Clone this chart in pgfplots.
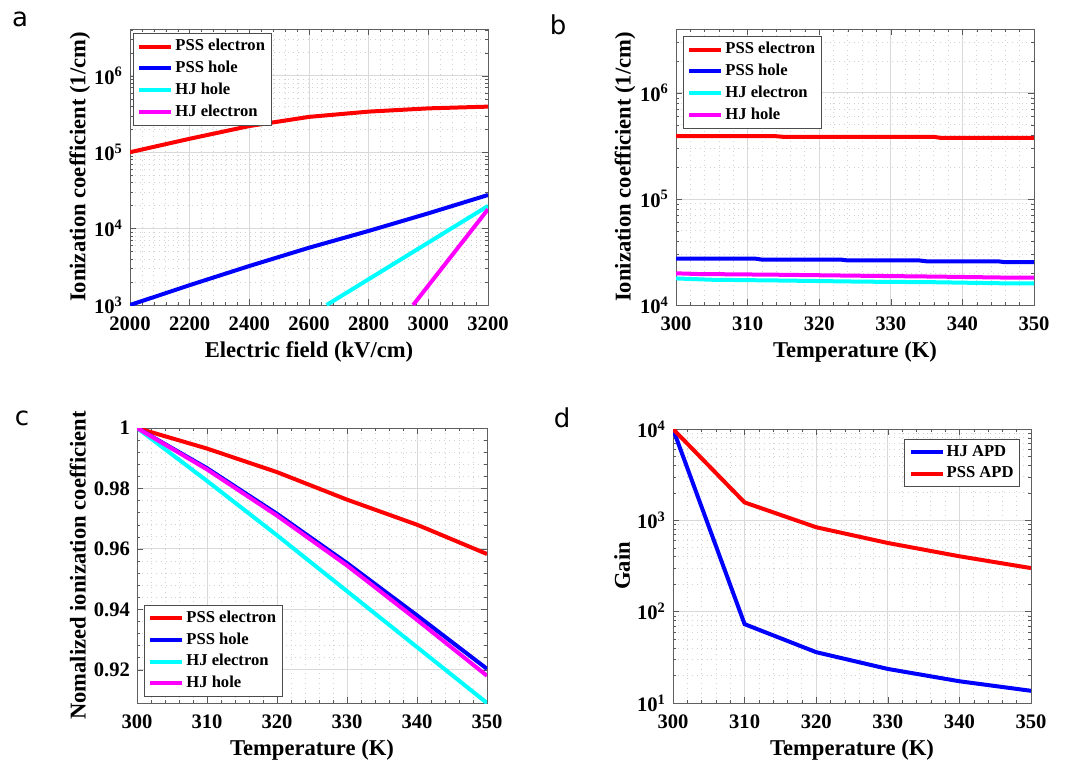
\documentclass[border=0pt]{standalone}
\usepackage{pgfplots}
\pgfplotsset{compat=1.18}
\usepackage{fontspec}
\setmainfont{Liberation Serif}
\newfontfamily\letterfont{DejaVu Sans}

\definecolor{mred}{RGB}{255,0,0}
\definecolor{mblue}{RGB}{0,0,255}
\definecolor{mcyan}{RGB}{0,255,255}
\definecolor{mmag}{RGB}{255,0,255}

\pgfplotsset{
  panel/.style={
    scale only axis,
    anchor=north west,
    axis line style={gray!75!black},
    tick style={gray!70!black},
    tick align=inside,
    major tick length=3pt,
    minor tick length=1.5pt,
    grid=both,
    major grid style={gray!30, line width=0.4pt},
    minor grid style={gray!35, dotted, line width=0.4pt},
    tick label style={font=\bfseries\fontsize{10.3}{12}\selectfont},
    xticklabel style={yshift=-2.5pt},
    /pgf/number format/assume math mode=true,
    /pgf/number format/1000 sep={},
    label style={font=\bfseries\fontsize{11.3}{13}\selectfont},
    xlabel style={at={(axis description cs:0.5,-0.17)}, anchor=center},
    legend cell align=left,
    legend style={font=\bfseries\fontsize{8.3}{9}\selectfont, draw=gray!60!black,
      inner sep=2pt, row sep=1.6pt, nodes={inner sep=1pt}, anchor=north west},
    legend image code/.code={\draw[##1, line width=2pt] (0pt,0pt) -- (16pt,0pt);},
    every axis plot/.append style={line width=2pt},
  },
  logminor/.style={
    minor ytick={2e1,3e1,4e1,5e1,6e1,7e1,8e1,9e1,
      2e2,3e2,4e2,5e2,6e2,7e2,8e2,9e2,
      2e3,3e3,4e3,5e3,6e3,7e3,8e3,9e3,
      2e4,3e4,4e4,5e4,6e4,7e4,8e4,9e4,
      2e5,3e5,4e5,5e5,6e5,7e5,8e5,9e5,
      2e6,3e6,4e6},
  },
}

\begin{document}
\begin{tikzpicture}
\path (0,0) rectangle (539.5pt,-381.5pt);

% panel letters
\node[font=\letterfont\fontsize{13}{15}\selectfont] at (10pt,-9.5pt) {a};
\node[font=\letterfont\fontsize{13}{15}\selectfont] at (279pt,-12.5pt) {b};
\node[font=\letterfont\fontsize{13}{15}\selectfont] at (11pt,-209pt) {c};
\node[font=\letterfont\fontsize{13}{15}\selectfont] at (281pt,-209pt) {d};

% ---- a ----
\begin{semilogyaxis}[panel, logminor,
  at={(65pt,-14.5pt)}, width=179pt, height=138pt,
  xmin=2000, xmax=3200, ymin=1e3, ymax=4.1e6,
  xtick={2000,2200,...,3200}, minor x tick num=4,
  ytick={1e3,1e4,1e5,1e6},
  yticklabels={10\textsuperscript{3},10\textsuperscript{4},10\textsuperscript{5},10\textsuperscript{6}},
  xlabel={Electric field (kV/cm)},
  ylabel={Ionization coefficient (1/cm)},
  ylabel style={at={(axis description cs:-0.14,0.5)}, anchor=center},
  legend style={at={(axis description cs:0,1)}, xshift=1.5pt, yshift=-2pt},
]
\addplot[mred] coordinates {(2000,1.0e5) (2200,1.5e5) (2400,2.2e5) (2600,2.9e5) (2800,3.4e5) (3000,3.75e5) (3200,3.95e5)};
\addlegendentry{PSS electron}
\addplot[mblue] coordinates {(2000,1000) (2200,1820) (2400,3240) (2600,5620) (2800,9330) (3000,15850) (3200,27540)};
\addlegendentry{PSS hole}
\addplot[mcyan] coordinates {(2659,1000) (3200,19800)};
\addlegendentry{HJ hole}
\addplot[mmag] coordinates {(2949,1000) (3200,17900)};
\addlegendentry{HJ electron}
\end{semilogyaxis}

% ---- b ----
\begin{semilogyaxis}[panel, logminor,
  at={(338pt,-14.5pt)}, width=179pt, height=138pt,
  xmin=300, xmax=350, ymin=1e4, ymax=4e6,
  xtick={300,310,...,350}, minor x tick num=4,
  ytick={1e4,1e5,1e6},
  yticklabels={10\textsuperscript{4},10\textsuperscript{5},10\textsuperscript{6}},
  xlabel={Temperature (K)},
  ylabel={Ionization coefficient (1/cm)},
  ylabel style={at={(axis description cs:-0.142,0.5)}, anchor=center},
  legend style={at={(axis description cs:0,1)}, xshift=3.5pt, yshift=-3.5pt},
]
\addplot[mred] coordinates {(300,3.9e5) (314,3.9e5) (315,3.85e5) (336,3.85e5) (337,3.76e5) (350,3.76e5)};
\addlegendentry{PSS electron}
\addplot[mblue] coordinates {(300,2.74e4) (311,2.74e4) (312,2.68e4) (323,2.68e4) (324,2.63e4) (334,2.63e4) (335,2.58e4) (345,2.58e4) (346,2.53e4) (350,2.53e4)};
\addlegendentry{PSS hole}
\addplot[mcyan] coordinates {(300,1.78e4) (305,1.73e4) (315,1.70e4) (326,1.66e4) (336,1.64e4) (346,1.60e4) (350,1.60e4)};
\addlegendentry{HJ electron}
\addplot[mmag] coordinates {(300,1.99e4) (303,1.96e4) (314,1.93e4) (325,1.89e4) (337,1.85e4) (347,1.81e4) (350,1.81e4)};
\addlegendentry{HJ hole}
\end{semilogyaxis}

% ---- c ----
\begin{axis}[panel,
  at={(68.5pt,-214pt)}, width=175pt, height=137.5pt,
  xmin=300, xmax=350, ymin=0.909, ymax=1,
  xtick={300,310,...,350}, minor x tick num=4,
  ytick={0.92,0.94,0.96,0.98,1}, minor y tick num=4,
  yticklabel style={/pgf/number format/.cd, fixed, precision=2},
  xlabel={Temperature (K)},
  ylabel={Nomalized ionization coefficient},
  ylabel style={at={(axis description cs:-0.169,0.5)}, anchor=center},
  legend style={at={(axis description cs:0,0)}, anchor=south west, xshift=3.5pt, yshift=3pt},
]
\addplot[mred] coordinates {(300,1) (310,0.9932) (320,0.9854) (330,0.9763) (340,0.9680) (350,0.9583)};
\addlegendentry{PSS electron}
\addplot[mblue] coordinates {(300,1) (310,0.9867) (320,0.9716) (330,0.9553) (340,0.9380) (350,0.9203)};
\addlegendentry{PSS hole}
\addplot[mcyan] coordinates {(300,1) (310,0.9825) (320,0.9645) (330,0.9460) (340,0.9275) (350,0.9090)};
\addlegendentry{HJ electron}
\addplot[mmag] coordinates {(300,1) (310,0.9863) (320,0.9710) (330,0.9545) (340,0.9365) (350,0.9180)};
\addlegendentry{HJ hole}
\end{axis}

% ---- d ----
\begin{semilogyaxis}[panel, logminor,
  at={(336.5pt,-214.5pt)}, width=179pt, height=137pt,
  xmin=300, xmax=350, ymin=10, ymax=1e4,
  xtick={300,310,...,350}, minor x tick num=4,
  ytick={1e1,1e2,1e3,1e4},
  yticklabels={10\textsuperscript{1},10\textsuperscript{2},10\textsuperscript{3},10\textsuperscript{4}},
  xlabel={Temperature (K)},
  ylabel={Gain},
  ylabel style={at={(axis description cs:-0.142,0.5)}, anchor=center},
  legend style={at={(axis description cs:1,1)}, anchor=north east, xshift=-5.5pt, yshift=-5pt},
]
\addplot[mblue] coordinates {(300,1e4) (310,73) (320,36) (330,23.6) (340,17.3) (350,13.6)};
\addlegendentry{HJ APD}
\addplot[mred] coordinates {(300,1e4) (310,1570) (320,840) (330,565) (340,404) (350,300)};
\addlegendentry{PSS APD}
\end{semilogyaxis}
\end{tikzpicture}
\end{document}
